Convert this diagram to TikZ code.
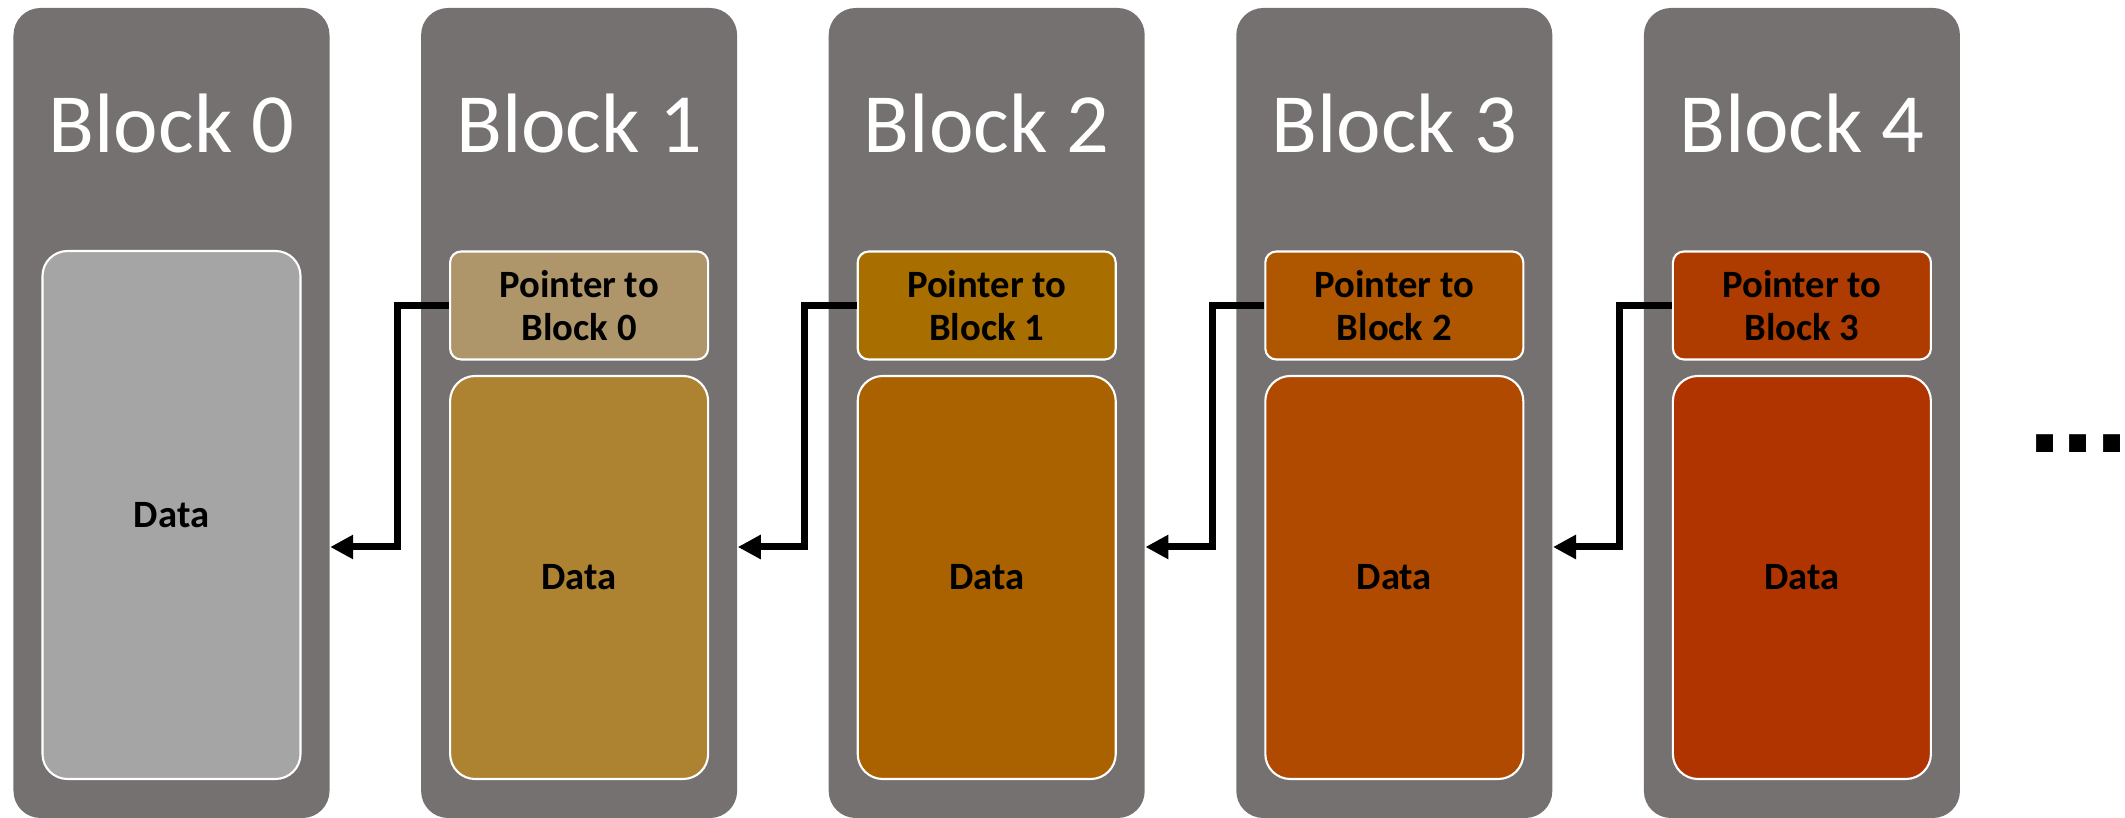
\documentclass[tikz,border=0pt]{standalone}
\usepackage{fontspec}
\setmainfont{Carlito}
\newfontfamily\dotfont{Liberation Sans}
\usetikzlibrary{arrows.meta}

\definecolor{blockgray}{HTML}{767171}
\definecolor{dataA}{HTML}{A5A5A5}
\definecolor{ptrB}{HTML}{AE966A}
\definecolor{dataB}{HTML}{AD8230}
\definecolor{ptrC}{HTML}{A86E00}
\definecolor{dataC}{HTML}{AA6200}
\definecolor{ptrD}{HTML}{AE5600}
\definecolor{dataD}{HTML}{AF4A00}
\definecolor{ptrE}{HTML}{AE3C00}
\definecolor{dataE}{HTML}{B03400}

\tikzset{
  blk/.style={fill=blockgray, rounded corners=0.27cm, minimum width=3.16cm,
    minimum height=8.1cm, inner sep=0pt},
  title/.style={anchor=base, text=white, inner sep=0pt,
    font=\fontsize{24}{28}\selectfont},
  ptrbox/.style={draw=white, line width=0.6pt, rounded corners=0.11cm,
    minimum width=2.58cm, minimum height=1.08cm, inner sep=0pt, align=center,
    font=\fontsize{11}{12.2}\selectfont\bfseries},
  databox/.style={draw=white, line width=0.6pt, rounded corners=0.25cm,
    minimum width=2.58cm, inner sep=0pt, font=\fontsize{11}{13}\selectfont\bfseries},
  ptr/.style={line width=0.07cm, -{Triangle[length=0.23cm,width=0.23cm]}}
}

\begin{document}
\begin{tikzpicture}[x=1cm, y=-1cm]
\useasboundingbox (0,0) rectangle (21.25,8.18);

%Block 0
\node[blk] (blk0) at (1.715,4.13){};
\node[title] (t0) at (1.715,1.53){Block 0};
\node[databox, fill=dataA, minimum height=5.28cm] (d0) at (1.715,5.15){Data};

%Block 1
\node[blk] (blk1) at (5.791,4.13){};
\node[title] (t1) at (5.791,1.53){Block 1};
\node[ptrbox, fill=ptrB] (p1) at (5.791,3.055){Pointer to\\Block 0};
\node[databox, fill=dataB, minimum height=4.03cm] (d1) at (5.791,5.775){Data};

%Block 2
\node[blk] (blk2) at (9.867,4.13){};
\node[title] (t2) at (9.867,1.53){Block 2};
\node[ptrbox, fill=ptrC] (p2) at (9.867,3.055){Pointer to\\Block 1};
\node[databox, fill=dataC, minimum height=4.03cm] (d2) at (9.867,5.775){Data};

%Block 3
\node[blk] (blk3) at (13.943,4.13){};
\node[title] (t3) at (13.943,1.53){Block 3};
\node[ptrbox, fill=ptrD] (p3) at (13.943,3.055){Pointer to\\Block 2};
\node[databox, fill=dataD, minimum height=4.03cm] (d3) at (13.943,5.775){Data};

%Block 4
\node[blk] (blk4) at (18.019,4.13){};
\node[title] (t4) at (18.019,1.53){Block 4};
\node[ptrbox, fill=ptrE] (p4) at (18.019,3.055){Pointer to\\Block 3};
\node[databox, fill=dataE, minimum height=4.03cm] (d4) at (18.019,5.775){Data};

%pointers back to previous block
\draw[ptr] (p1.west) -- ++(-0.52,0) |- (blk0.east |- 0,5.47);
\draw[ptr] (p2.west) -- ++(-0.52,0) |- (blk1.east |- 0,5.47);
\draw[ptr] (p3.west) -- ++(-0.52,0) |- (blk2.east |- 0,5.47);
\draw[ptr] (p4.west) -- ++(-0.52,0) |- (blk3.east |- 0,5.47);

\node[anchor=base west, inner sep=0pt, font=\fontsize{34}{36}\dotfont\bfseries] (more) at (20.28,4.53){...};

\end{tikzpicture}
\end{document}
